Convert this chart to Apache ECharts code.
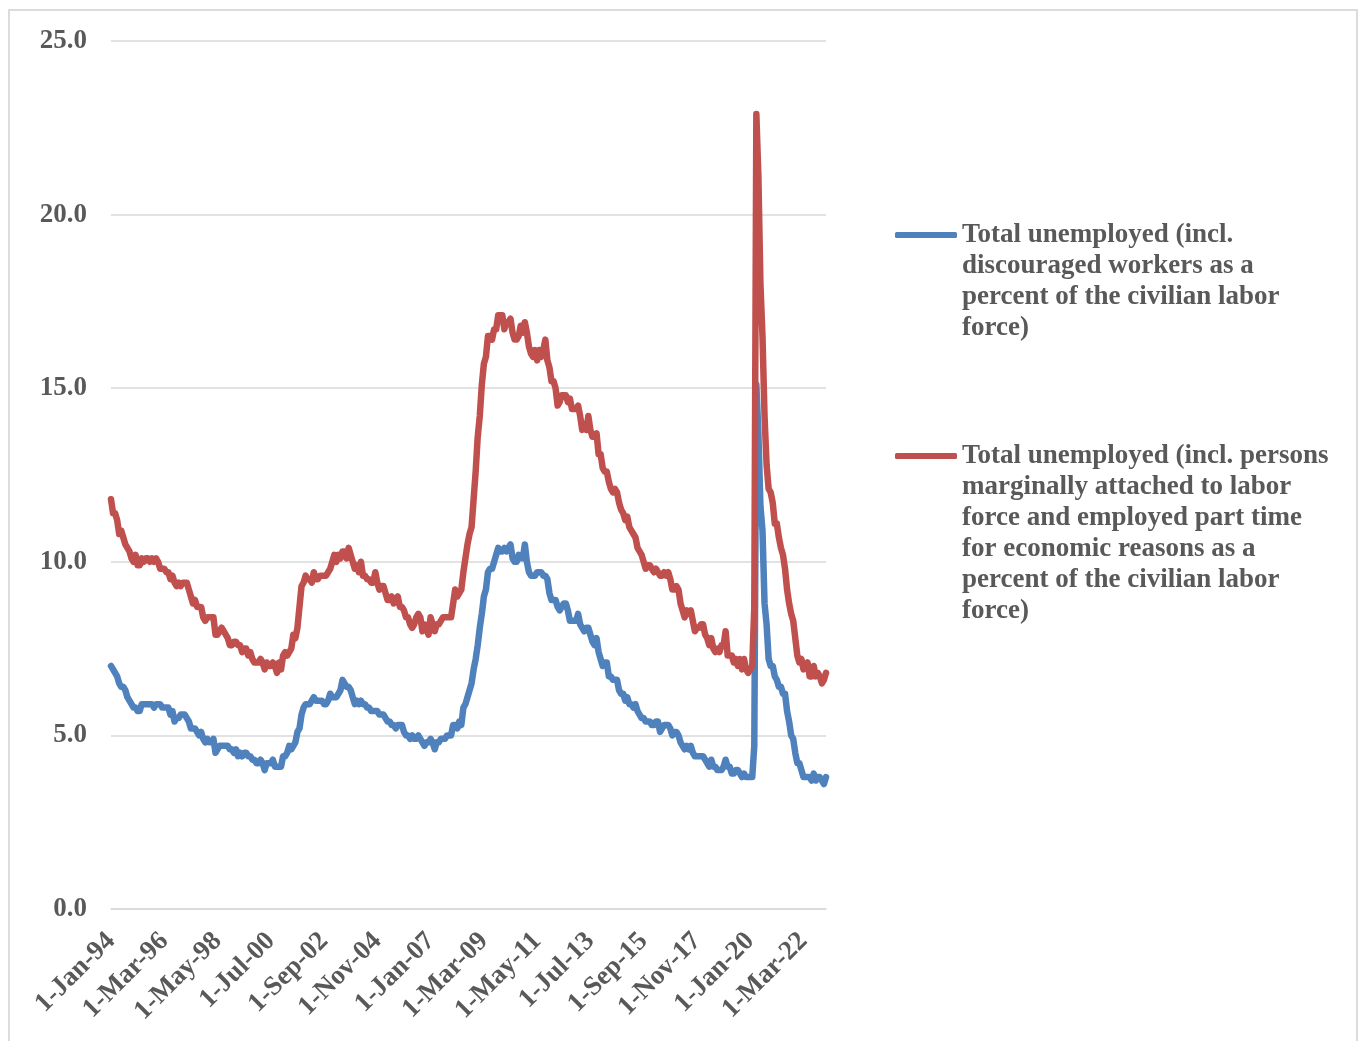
<!DOCTYPE html>
<html>
<head>
<meta charset="utf-8">
<title>Unemployment measures U-4 and U-6</title>
<script src="https://cdn.jsdelivr.net/npm/echarts@6/dist/echarts.min.js"></script>
<style>
  html, body { margin: 0; padding: 0; background: #ffffff; }
  #frame {
    position: absolute; left: 8px; top: 9px; width: 1346px; height: 1040px;
    border-top: 2px solid #dcdcdc; border-left: 2px solid #dcdcdc; border-right: 2px solid #dcdcdc;
    box-sizing: content-box;
  }
  #chart { position: absolute; left: 0; top: 0; width: 1358px; height: 1041px; }
</style>
</head>
<body>
<div id="frame"></div>
<div id="chart"></div>
<script>
// Monthly series, January 1994 onward (percent of the civilian labor force)
const startYear = 1994;
const monthNames = ['Jan', 'Feb', 'Mar', 'Apr', 'May', 'Jun', 'Jul', 'Aug', 'Sep', 'Oct', 'Nov', 'Dec'];

const seriesNames = [
  'Total unemployed (incl. discouraged workers as a percent of the civilian labor force)',
  'Total unemployed (incl. persons marginally attached to labor force and employed part time for economic reasons as a percent of the civilian labor force)'
];
const legendLines = [
  ['Total unemployed (incl.', 'discouraged workers as a', 'percent of the civilian labor', 'force)'],
  ['Total unemployed (incl. persons', 'marginally attached to labor', 'force and employed part time', 'for economic reasons as a', 'percent of the civilian labor', 'force)']
];

// Unemployed plus discouraged workers
const discouraged = [
  7.0, 6.9, 6.8, 6.7, 6.5, 6.4, 6.4, 6.3, 6.1, 6.0, 5.9, 5.8,
  5.8, 5.7, 5.7, 5.9, 5.9, 5.9, 5.9, 5.9, 5.9, 5.8, 5.9, 5.9,
  5.9, 5.8, 5.8, 5.8, 5.8, 5.6, 5.7, 5.4, 5.5, 5.5, 5.6, 5.6,
  5.6, 5.5, 5.4, 5.2, 5.2, 5.2, 5.1, 5.0, 5.1, 4.9, 4.8, 4.9,
  4.8, 4.8, 4.9, 4.5, 4.6, 4.7, 4.7, 4.7, 4.7, 4.7, 4.6, 4.6,
  4.5, 4.6, 4.4, 4.5, 4.4, 4.5, 4.5, 4.4, 4.4, 4.3, 4.3, 4.2,
  4.2, 4.3, 4.2, 4.0, 4.2, 4.2, 4.2, 4.3, 4.1, 4.1, 4.1, 4.1,
  4.4, 4.4, 4.5, 4.7, 4.6, 4.7, 4.8, 5.1, 5.2, 5.6, 5.8, 5.9,
  5.9, 5.9, 6.0, 6.1, 6.0, 6.0, 6.0, 6.0, 5.9, 5.9, 6.0, 6.2,
  6.1, 6.1, 6.1, 6.2, 6.3, 6.6, 6.5, 6.4, 6.4, 6.3, 6.1, 5.9,
  6.0, 5.9, 6.0, 5.9, 5.9, 5.8, 5.8, 5.7, 5.7, 5.7, 5.7, 5.6,
  5.6, 5.6, 5.5, 5.4, 5.4, 5.3, 5.3, 5.2, 5.3, 5.3, 5.3, 5.1,
  5.0, 5.0, 4.9, 5.0, 4.9, 4.9, 5.0, 4.9, 4.8, 4.7, 4.8, 4.8,
  4.9, 4.8, 4.6, 4.8, 4.8, 4.9, 4.9, 4.9, 5.0, 5.0, 5.0, 5.3,
  5.3, 5.2, 5.4, 5.3, 5.8, 5.9, 6.1, 6.3, 6.5, 6.9, 7.2, 7.6,
  8.1, 8.5, 9.0, 9.2, 9.7, 9.8, 9.8, 10.0, 10.2, 10.4, 10.3, 10.3,
  10.4, 10.3, 10.4, 10.5, 10.1, 10.0, 10.0, 10.2, 10.1, 10.1, 10.5, 10.0,
  9.7, 9.6, 9.6, 9.6, 9.7, 9.7, 9.7, 9.6, 9.6, 9.5, 9.1, 8.9,
  8.9, 8.9, 8.7, 8.6, 8.7, 8.8, 8.8, 8.6, 8.3, 8.3, 8.3, 8.3,
  8.5, 8.2, 8.1, 8.0, 8.1, 8.1, 7.9, 7.7, 7.6, 7.8, 7.4, 7.2,
  7.0, 7.1, 7.1, 6.7, 6.7, 6.6, 6.6, 6.6, 6.3, 6.2, 6.2, 6.0,
  6.1, 5.9, 5.9, 5.8, 5.9, 5.7, 5.6, 5.5, 5.5, 5.4, 5.4, 5.4,
  5.3, 5.3, 5.4, 5.4, 5.1, 5.2, 5.3, 5.3, 5.3, 5.2, 5.0, 5.1,
  5.1, 5.0, 4.8, 4.7, 4.6, 4.7, 4.6, 4.7, 4.5, 4.4, 4.4, 4.4,
  4.4, 4.4, 4.3, 4.2, 4.1, 4.3, 4.1, 4.1, 4.0, 4.0, 4.0, 4.1,
  4.3, 4.1, 4.1, 3.9, 3.9, 4.0, 4.0, 3.9, 3.8, 3.9, 3.8, 3.8,
  3.8, 3.8, 4.7, 15.1, 13.7, 11.6, 10.9, 8.8, 8.2, 7.2, 7.0, 7.0,
  6.7, 6.6, 6.4, 6.4, 6.2, 6.2, 5.7, 5.4, 5.0, 4.9, 4.5, 4.2,
  4.2, 4.0, 3.8, 3.8, 3.8, 3.8, 3.7, 3.9, 3.7, 3.8, 3.8, 3.7,
  3.6, 3.8
];

// Unemployed plus marginally attached and involuntary part-time workers
const marginalPartTime = [
  11.8, 11.4, 11.4, 11.2, 10.8, 10.9, 10.7, 10.5, 10.4, 10.3, 10.1, 10.0,
  10.2, 9.9, 9.9, 10.1, 10.0, 10.1, 10.1, 10.0, 10.1, 10.0, 10.1, 10.0,
  9.8, 9.8, 9.8, 9.7, 9.7, 9.5, 9.6, 9.4, 9.3, 9.4, 9.3, 9.4,
  9.4, 9.4, 9.2, 9.0, 8.8, 8.9, 8.7, 8.7, 8.7, 8.4, 8.3, 8.4,
  8.4, 8.4, 8.4, 7.9, 7.9, 8.0, 8.1, 8.0, 7.9, 7.8, 7.6, 7.6,
  7.7, 7.7, 7.6, 7.6, 7.4, 7.5, 7.5, 7.3, 7.4, 7.2, 7.1, 7.1,
  7.1, 7.2, 7.1, 6.9, 7.1, 7.0, 7.0, 7.1, 7.0, 6.8, 7.1, 6.9,
  7.3, 7.4, 7.3, 7.4, 7.5, 7.9, 7.8, 8.1, 8.7, 9.3, 9.4, 9.6,
  9.5, 9.5, 9.4, 9.7, 9.5, 9.5, 9.6, 9.6, 9.6, 9.6, 9.7, 9.8,
  10.0, 10.2, 10.0, 10.2, 10.1, 10.3, 10.3, 10.1, 10.4, 10.2, 10.0, 9.8,
  9.9, 9.7, 10.0, 9.6, 9.6, 9.5, 9.5, 9.4, 9.4, 9.7, 9.4, 9.2,
  9.3, 9.3, 9.1, 8.9, 8.9, 9.0, 8.8, 8.9, 9.0, 8.7, 8.7, 8.6,
  8.4, 8.4, 8.2, 8.1, 8.2, 8.4, 8.5, 8.4, 8.0, 8.2, 8.1, 7.9,
  8.4, 8.2, 8.0, 8.2, 8.2, 8.3, 8.4, 8.4, 8.4, 8.4, 8.4, 8.8,
  9.2, 9.0, 9.1, 9.2, 9.7, 10.1, 10.5, 10.8, 11.0, 11.8, 12.6, 13.6,
  14.2, 15.1, 15.7, 15.9, 16.5, 16.5, 16.4, 16.7, 16.7, 17.1, 17.1, 17.1,
  16.7, 16.9, 16.9, 17.0, 16.6, 16.4, 16.4, 16.5, 16.8, 16.6, 16.9, 16.6,
  16.2, 16.0, 15.9, 16.1, 15.8, 16.1, 15.9, 16.1, 16.4, 15.8, 15.6, 15.2,
  15.2, 15.0, 14.5, 14.6, 14.8, 14.8, 14.8, 14.6, 14.7, 14.4, 14.4, 14.4,
  14.5, 14.2, 13.8, 13.9, 13.8, 14.2, 13.8, 13.6, 13.6, 13.7, 13.1, 13.1,
  12.7, 12.6, 12.6, 12.3, 12.1, 12.0, 12.1, 12.0, 11.7, 11.5, 11.4, 11.2,
  11.3, 11.0, 10.9, 10.8, 10.7, 10.4, 10.3, 10.2, 10.0, 9.8, 9.9, 9.9,
  9.8, 9.7, 9.8, 9.7, 9.6, 9.6, 9.7, 9.6, 9.7, 9.5, 9.2, 9.2,
  9.3, 9.2, 8.8, 8.6, 8.4, 8.6, 8.5, 8.6, 8.3, 8.0, 8.1, 8.1,
  8.2, 8.2, 7.9, 7.8, 7.6, 7.8, 7.5, 7.4, 7.5, 7.4, 7.6, 7.6,
  8.0, 7.3, 7.3, 7.3, 7.1, 7.2, 7.0, 7.2, 6.9, 7.2, 6.9, 6.8,
  6.9, 7.0, 8.7, 22.9, 21.1, 18.0, 16.5, 14.2, 12.8, 12.1, 12.0, 11.7,
  11.1, 11.1, 10.7, 10.4, 10.2, 9.8, 9.2, 8.8, 8.5, 8.3, 7.8, 7.3,
  7.1, 7.2, 6.9, 7.0, 7.1, 6.7, 6.7, 7.0, 6.7, 6.8, 6.7, 6.5,
  6.6, 6.8
];

// Category labels such as "1-Jan-94", one per month of data
const categories = discouraged.map(function (_, i) {
  const y = startYear + Math.floor(i / 12);
  return '1-' + monthNames[i % 12] + '-' + String(y % 100).padStart(2, '0');
});

const yTicks = { min: 0, max: 25, interval: 5 };

const FONT = 'Liberation Serif';
const TEXT_COLOR = '#595959';
const COLORS = ['#4f81bd', '#c0504d'];
const LINE_H = 31;
const FONT_SIZE = 27;
const ICON_H = 6;

// Legend text is vertically centred on its icon; leading blank lines push
// the first text line level with the icon.
function legendFor(idx, iconCenterY) {
  const lines = legendLines[idx];
  const n = lines.length;
  const blockH = (2 * n - 1) * LINE_H;
  const padded = new Array(n - 1).fill('').concat(lines).join('\n');
  return {
    show: true,
    data: [seriesNames[idx]],
    left: 895,
    top: iconCenterY - blockH / 2,
    padding: 0,
    orient: 'vertical',
    selectedMode: false,
    icon: 'roundRect',
    itemWidth: 62,
    itemHeight: ICON_H,
    formatter: function () { return padded; },
    textStyle: {
      fontFamily: FONT,
      fontWeight: 'bold',
      fontSize: FONT_SIZE,
      color: TEXT_COLOR,
      lineHeight: LINE_H
    }
  };
}

const chart = echarts.init(document.getElementById('chart'), null, { renderer: 'canvas' });
chart.setOption({
  backgroundColor: 'transparent',
  animation: false,
  grid: { left: 111, right: 532, top: 41, bottom: 132, containLabel: false },
  legend: [
    legendFor(0, 235),
    legendFor(1, 456)
  ],
  xAxis: {
    type: 'category',
    data: categories,
    boundaryGap: false,
    axisLine: { show: true, lineStyle: { color: '#d9d9d9', width: 1.5 } },
    axisTick: { show: false },
    splitLine: { show: false },
    axisLabel: {
      interval: 25,
      rotate: 45,
      margin: 28,
      fontFamily: FONT,
      fontWeight: 'bold',
      fontSize: FONT_SIZE,
      color: TEXT_COLOR
    }
  },
  yAxis: {
    type: 'value',
    min: yTicks.min,
    max: yTicks.max,
    interval: yTicks.interval,
    axisLine: { show: false },
    axisTick: { show: false },
    splitLine: { show: true, lineStyle: { color: '#d9d9d9', width: 1.5 } },
    axisLabel: {
      margin: 24,
      fontFamily: FONT,
      fontWeight: 'bold',
      fontSize: FONT_SIZE,
      color: TEXT_COLOR,
      formatter: function (v) { return v.toFixed(1); }
    }
  },
  series: [
    {
      name: seriesNames[0],
      type: 'line',
      data: discouraged,
      symbol: 'none',
      color: COLORS[0],
      lineStyle: { width: 6.5, color: COLORS[0], cap: 'round', join: 'round' }
    },
    {
      name: seriesNames[1],
      type: 'line',
      data: marginalPartTime,
      symbol: 'none',
      color: COLORS[1],
      lineStyle: { width: 6.5, color: COLORS[1], cap: 'round', join: 'round' }
    }
  ]
});
</script>
</body>
</html>
